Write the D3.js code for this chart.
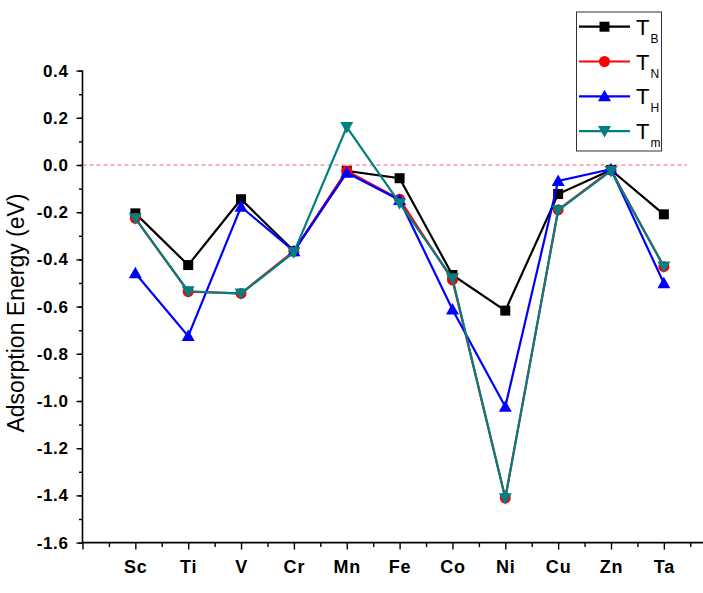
<!DOCTYPE html>
<html><head><meta charset="utf-8">
<script src="https://cdn.jsdelivr.net/npm/d3@7"></script>
<style>body{margin:0;background:#fff}svg{display:block}</style>
</head><body>
<svg id="c" width="703" height="593"></svg>
<script>
const categories = ["Sc","Ti","V","Cr","Mn","Fe","Co","Ni","Cu","Zn","Ta"];
const TB = [-0.205,-0.424,-0.145,-0.365,-0.025,-0.056,-0.466,-0.617,-0.123,-0.021,-0.209];
const TN = [-0.226,-0.537,-0.544,-0.365,-0.025,-0.145,-0.487,-1.411,-0.190,-0.022,-0.431];
const TH = [-0.459,-0.725,-0.177,-0.365,-0.033,-0.148,-0.612,-1.024,-0.068,-0.018,-0.501];
const Tm = [-0.226,-0.535,-0.545,-0.370,0.161,-0.162,-0.480,-1.412,-0.192,-0.025,-0.430];
const yTicks = [0.4,0.2,0.0,-0.2,-0.4,-0.6,-0.8,-1.0,-1.2,-1.4,-1.6];

const series = [
  {name:"B", values:TB, color:"#000000", marker:"square"},
  {name:"N", values:TN, color:"#ff0000", marker:"circle"},
  {name:"H", values:TH, color:"#0000ff", marker:"up"},
  {name:"m", values:Tm, color:"#008080", marker:"down"}
];

const FONT = "Liberation Sans, Arial, sans-serif";
const svg = d3.select("#c");
const x = d3.scaleLinear().domain([0,12]).range([82.5, 82.5+12*52.85]);
const y = d3.scaleLinear().domain([0.4,-1.6]).range([70.6,542.6]);

// zero dashed line
svg.append("line").attr("x1",x(0)).attr("x2",687).attr("y1",y(0)).attr("y2",y(0))
  .attr("stroke","#e0405a").attr("stroke-width",0.8).attr("stroke-dasharray","4,3");

// y axis
const yMinor = d3.range(-16,5).map(d=>d/10);
const ya = svg.append("g").attr("transform",`translate(${x(0)},0)`);
ya.call(d3.axisLeft(y).tickValues(yMinor).tickSize(3.5).tickFormat(""));
ya.call(g=>g.select(".domain").remove());
const yb = svg.append("g").attr("transform",`translate(${x(0)},0)`);
yb.call(d3.axisLeft(y).tickValues(yTicks).tickSize(6).tickPadding(8).tickFormat(d=>d.toFixed(1)));
yb.selectAll("text").attr("font-family",FONT).attr("font-weight","bold").attr("font-size","17px")
  .attr("letter-spacing","0.6px").attr("fill","#000");
yb.select(".domain").attr("stroke-width",1.6).attr("d",`M0,${y(0.4)}V${y(-1.6)}`);
yb.selectAll(".tick line").attr("stroke-width",1.4);
ya.selectAll(".tick line").attr("stroke-width",1.4);

// x axis
const xa = svg.append("g").attr("transform",`translate(0,${y(-1.6)})`);
xa.call(d3.axisBottom(x).tickValues(d3.range(0,12.5,0.5).filter(d=>d%1!==0)).tickSize(4.5).tickFormat(""));
xa.select(".domain").remove();
xa.selectAll(".tick line").attr("stroke-width",1.4);
const xb = svg.append("g").attr("transform",`translate(0,${y(-1.6)})`);
xb.call(d3.axisBottom(x).tickValues(d3.range(0,13)).tickSize(7).tickPadding(11)
  .tickFormat(d=> (d>=1 && d<=categories.length) ? categories[d-1] : ""));
xb.select(".domain").attr("stroke-width",1.6).attr("d",`M${x(0)},0H${x(12)}`);
xb.selectAll(".tick line").attr("stroke-width",1.4);
xb.selectAll("text").attr("font-family",FONT).attr("font-weight","bold").attr("font-size","18px")
  .attr("letter-spacing","0.8px").attr("fill","#000");

// y label
svg.append("text").attr("transform",`translate(24,${313}) rotate(-90)`)
  .attr("text-anchor","middle").attr("font-family",FONT)
  .attr("font-size","23px").attr("fill","#000").text("Adsorption Energy (eV)");

function drawMarker(g, type, cx, cy, color){
  if(type==="square") g.append("rect").attr("x",cx-5).attr("y",cy-5).attr("width",10).attr("height",10).attr("fill",color);
  else if(type==="circle") g.append("circle").attr("cx",cx).attr("cy",cy).attr("r",5.5).attr("fill",color);
  else if(type==="up") g.append("path").attr("d",`M${cx},${cy-6.5}L${cx+6.5},${cy+5}L${cx-6.5},${cy+5}Z`).attr("fill",color);
  else g.append("path").attr("d",`M${cx},${cy+6.5}L${cx+6.5},${cy-5}L${cx-6.5},${cy-5}Z`).attr("fill",color);
}

const line = d3.line().x((d,i)=>x(i+1)).y(d=>y(d));
series.forEach(s=>{
  const g = svg.append("g");
  g.append("path").datum(s.values).attr("d",line).attr("fill","none").attr("stroke",s.color).attr("stroke-width",2.2);
  s.values.forEach((v,i)=>drawMarker(g,s.marker,x(i+1),y(v),s.color));
});

// legend
const lg = svg.append("g");
lg.append("rect").attr("x",576.5).attr("y",12).attr("width",85).attr("height",139)
  .attr("fill","#fff").attr("stroke","#333").attr("stroke-width",1);
series.forEach((s,i)=>{
  const cy = 26.7 + i*34.8;
  lg.append("line").attr("x1",579).attr("x2",630).attr("y1",cy).attr("y2",cy).attr("stroke",s.color).attr("stroke-width",2.2);
  drawMarker(lg,s.marker,604.5,cy,s.color);
  const t = lg.append("text").attr("x",636).attr("y",cy+8).attr("font-family",FONT)
    .attr("font-size","22px").attr("fill","#000");
  t.append("tspan").text("T");
  t.append("tspan").attr("dy",8).attr("font-size","12px").attr("dx",1).text(s.name);
});
</script>
</body></html>
